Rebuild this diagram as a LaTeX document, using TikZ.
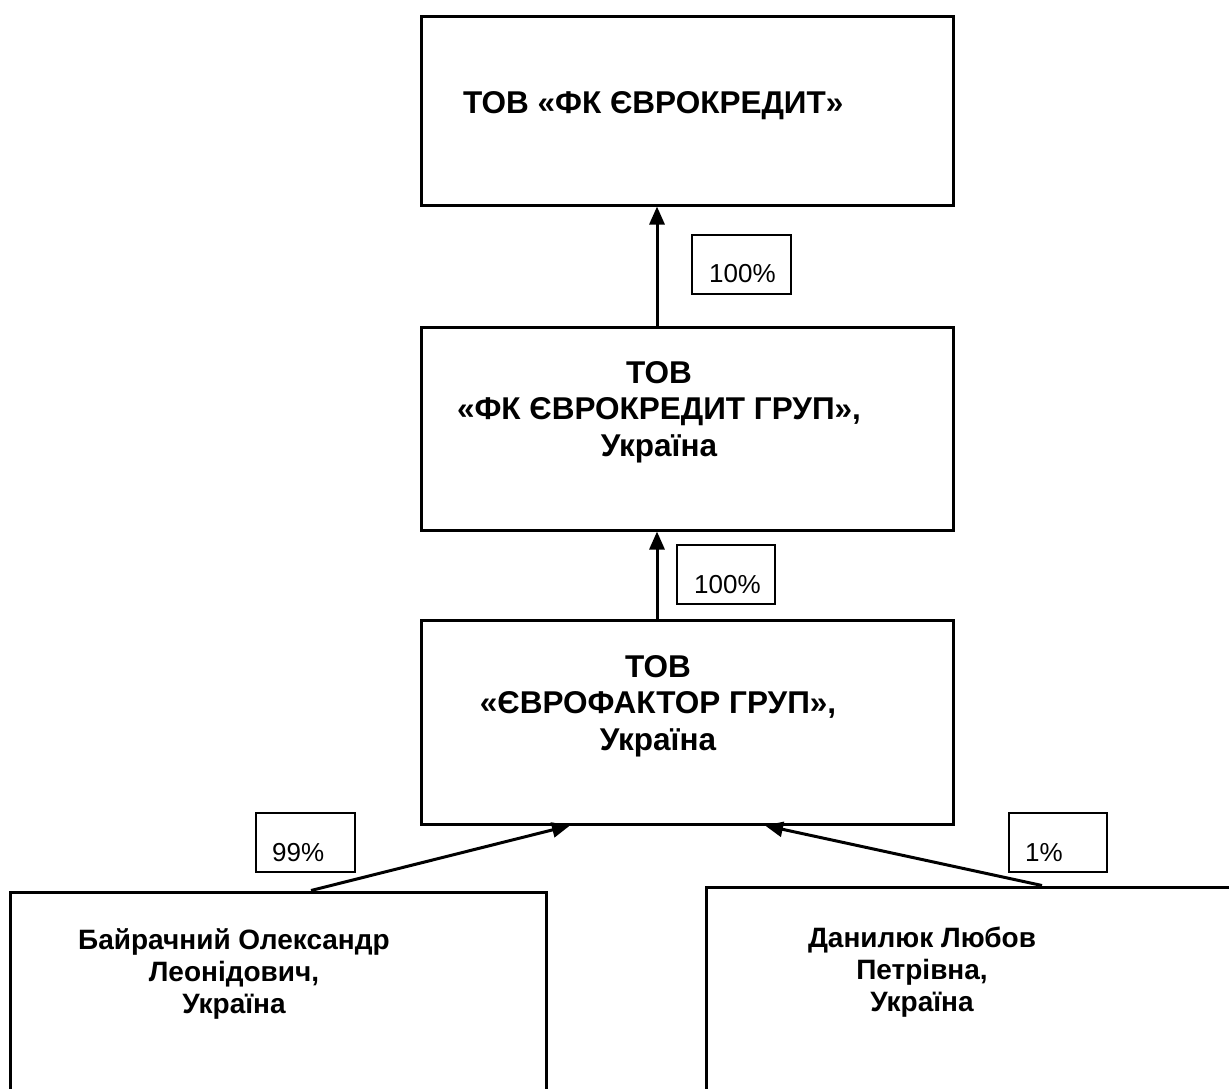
\documentclass[tikz,border=0pt]{standalone}
\usepackage{fontspec}
\setmainfont{Liberation Sans}
\usetikzlibrary{arrows.meta}
\begin{document}
\begin{tikzpicture}[x=1pt,y=-1pt,
  box/.style={draw,line width=3pt,inner sep=0pt},
  pbox/.style={draw,line width=2.2pt,inner sep=0pt},
  btxt/.style={font=\fontsize{31.5}{36.5}\selectfont\bfseries,align=center,inner sep=0pt},
  bsm/.style={font=\fontsize{28}{32}\selectfont\bfseries,align=center,inner sep=0pt},
  ptxt/.style={font=\fontsize{26}{30}\selectfont,inner sep=0pt,anchor=west},
  arr/.style={line width=3pt,-{Triangle[length=18pt,width=15pt]}}]
\useasboundingbox[fill=white] (0,0) rectangle (1229,1089);
% main boxes
\node[box,minimum width=532pt,minimum height=188pt] (n1) at (687,111) {};
\node[box,minimum width=532pt,minimum height=203pt] (n2) at (687,428.5) {};
\node[box,minimum width=532pt,minimum height=204pt] (n3) at (687,722) {};
\node[box,minimum width=536pt,minimum height=230pt] (n4) at (278,1007) {};
\node[box,minimum width=540pt,minimum height=235pt] (n5) at (976,1004.5) {};
% texts
\node[btxt,anchor=west] (t1) at (463,106) {ТОВ «ФК ЄВРОКРЕДИТ»};
\node[btxt] (t2) at (659,412) {ТОВ\\«ФК ЄВРОКРЕДИТ ГРУП»,\\Україна};
\node[btxt] (t3) at (658,706) {ТОВ\\«ЄВРОФАКТОР ГРУП»,\\Україна};
\node[bsm] (t4) at (234,974) {Байрачний Олександр\\Леонідович,\\Україна};
\node[bsm] (t5) at (922,972) {Данилюк Любов\\Петрівна,\\Україна};
% percent boxes
\node[pbox,minimum width=99pt,minimum height=59pt] (l1) at (741.5,264.5) {};
\node[pbox,minimum width=98pt,minimum height=59pt] (l2) at (726,574.5) {};
\node[pbox,minimum width=99pt,minimum height=59pt] (l3) at (305.5,842.5) {};
\node[pbox,minimum width=98pt,minimum height=59pt] (l4) at (1058,842.5) {};
\node[ptxt] (p1) at (709,274) {100\%};
\node[ptxt] (p2) at (694,585) {100\%};
\node[ptxt] (p3) at (272,853) {99\%};
\node[ptxt] (p4) at (1025,853) {1\%};
% connector ends
\coordinate (a1e) at (657,205);
\coordinate (a2s) at (657,623);
\coordinate (a2e) at (657,530);
\coordinate (a3s) at (311,891);
\coordinate (a3e) at (570,823);
\coordinate (a4s) at (1042,889);
\coordinate (a4e) at (765,824);
\draw[arr] (a2e |- n2.north) -- (a1e |- n1.south);
\draw[arr] (a2s |- n3.north) -- (a2e |- n2.south);
\draw[arr] (a3s |- n4.north) -- (a3e |- n3.south);
\draw[arr] (a4s |- n5.north) -- (a4e |- n3.south);
\end{tikzpicture}
\end{document}
